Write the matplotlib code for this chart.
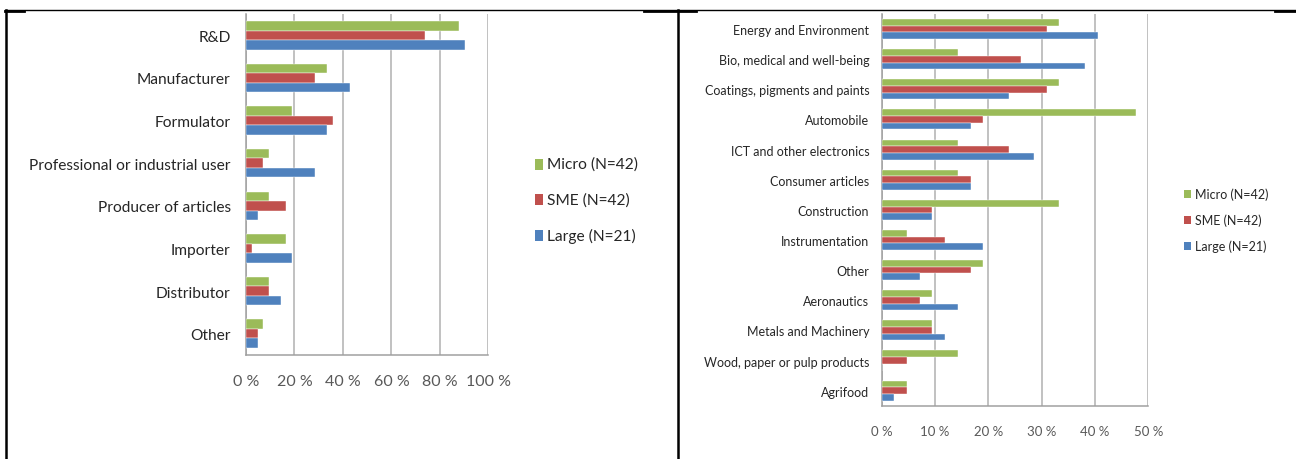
import matplotlib
matplotlib.use("Agg")
import matplotlib.pyplot as plt
from matplotlib.lines import Line2D
from matplotlib.patches import Rectangle
import numpy as np

plt.rcParams['font.family'] = ['Lato', 'DejaVu Sans']

# Company roles by company size (share of respondents, %)
roles = ["R&D", "Manufacturer", "Formulator", "Professional or industrial user",
         "Producer of articles", "Importer", "Distributor", "Other"]
roles_micro = [88.1, 33.3, 19.0, 9.5, 9.5, 16.7, 9.5, 7.1]
roles_sme = [73.8, 28.6, 35.7, 7.1, 16.7, 2.4, 9.5, 4.8]
roles_large = [90.5, 42.9, 33.3, 28.6, 4.8, 19.0, 14.3, 4.8]
roles_ticks = [0, 20, 40, 60, 80, 100]

# Application sectors by company size (%)
sectors = ["Energy and Environment", "Bio, medical and well-being",
           "Coatings, pigments and paints", "Automobile", "ICT and other electronics",
           "Consumer articles", "Construction", "Instrumentation", "Other",
           "Aeronautics", "Metals and Machinery", "Wood, paper or pulp products",
           "Agrifood"]
sectors_micro = [33.3, 14.3, 33.3, 47.6, 14.3, 14.3, 33.3, 4.8, 19.0, 9.5, 9.5, 14.3, 4.8]
sectors_sme = [31.0, 26.2, 31.0, 19.0, 23.8, 16.7, 9.5, 11.9, 16.7, 7.1, 9.5, 4.8, 4.8]
sectors_large = [40.5, 38.1, 23.8, 16.7, 28.6, 16.7, 9.5, 19.0, 7.1, 14.3, 11.9, 0.0, 2.4]
sectors_ticks = [0, 10, 20, 30, 40, 50]

series_names = ["Micro (N=42)", "SME (N=42)", "Large (N=21)"]
colors = ["#9BBB59", "#C0504D", "#4F81BD"]

W, H = 1296, 460
fig = plt.figure(figsize=(W / 100, H / 100), dpi=100)
fig.patch.set_facecolor("white")


def panel(rect, cats, series, ticks, label_size, tick_size, ypad,
          legend_pos, legend_size, legend_gap, box_w, box_h):
    ax = fig.add_axes(rect)
    n = len(cats)
    y = np.arange(n)
    bh = 0.222
    for k, (vals, col) in enumerate(zip(series, colors)):
        ax.barh(y + (k - 1) * bh, vals, height=bh, color=col,
                edgecolor="white", linewidth=0.3, zorder=3)
    ax.set_ylim(n - 0.5, -0.5)
    ax.set_xlim(ticks[0], ticks[-1])
    ax.set_xticks(ticks)
    ax.set_xticklabels([f"{t} %" for t in ticks], fontsize=tick_size, color="#595959")
    ax.set_yticks(y)
    ax.set_yticklabels(cats, fontsize=label_size, color="#262626")
    ax.tick_params(axis="both", length=0)
    ax.tick_params(axis="y", pad=ypad)
    ax.tick_params(axis="x", pad=14)
    ax.grid(axis="x", color="#B0B0B0", linewidth=1.1, zorder=0)
    for s in ["top", "right"]:
        ax.spines[s].set_visible(False)
    for s in ["left", "bottom"]:
        ax.spines[s].set_color("#A0A0A0")
        ax.spines[s].set_linewidth(1.1)
    # legend entries stacked vertically: colour box + label
    lx, ly = legend_pos
    for k, name in enumerate(series_names):
        yy = ly - k * legend_gap
        fig.add_artist(Rectangle((lx, yy - box_h / 2 / H), box_w / W, box_h / H,
                                 facecolor=colors[k], edgecolor="none",
                                 transform=fig.transFigure))
        fig.text(lx + (box_w + 4) / W, yy, name, color="#262626",
                 fontsize=legend_size, va="center", ha="left")
    return ax


panel([246 / W, 1 - 356 / H, 242.3 / W, 341 / H], roles,
      [roles_micro, roles_sme, roles_large], roles_ticks,
      11.2, 11.5, 11, (535 / W, 1 - 165 / H), 11.2, 35.5 / H, 8, 11)

panel([881.7 / W, 1 - 406.7 / H, 266.6 / W, 391.7 / H], sectors,
      [sectors_micro, sectors_sme, sectors_large], sectors_ticks,
      9.0, 9.5, 9, (1184 / W, 1 - 195 / H), 9.0, 26 / H, 7, 8)

# surrounding table borders
def hline(x0, x1, y, lw):
    fig.add_artist(Line2D([x0 / W, x1 / W], [1 - y / H, 1 - y / H],
                          color="black", linewidth=lw, transform=fig.transFigure))


def vline(x, y0, y1, lw):
    fig.add_artist(Line2D([x / W, x / W], [1 - y0 / H, 1 - y1 / H],
                          color="black", linewidth=lw, transform=fig.transFigure))


hline(5, 1296, 11, 1.0)
hline(5, 24, 11.5, 2.0)
hline(644, 696, 11.5, 2.0)
hline(1275, 1296, 11.5, 2.0)
vline(6, 10.5, 460, 1.8)
vline(678, 11, 460, 1.8)

fig.savefig("out.png", dpi=100, facecolor="white")
